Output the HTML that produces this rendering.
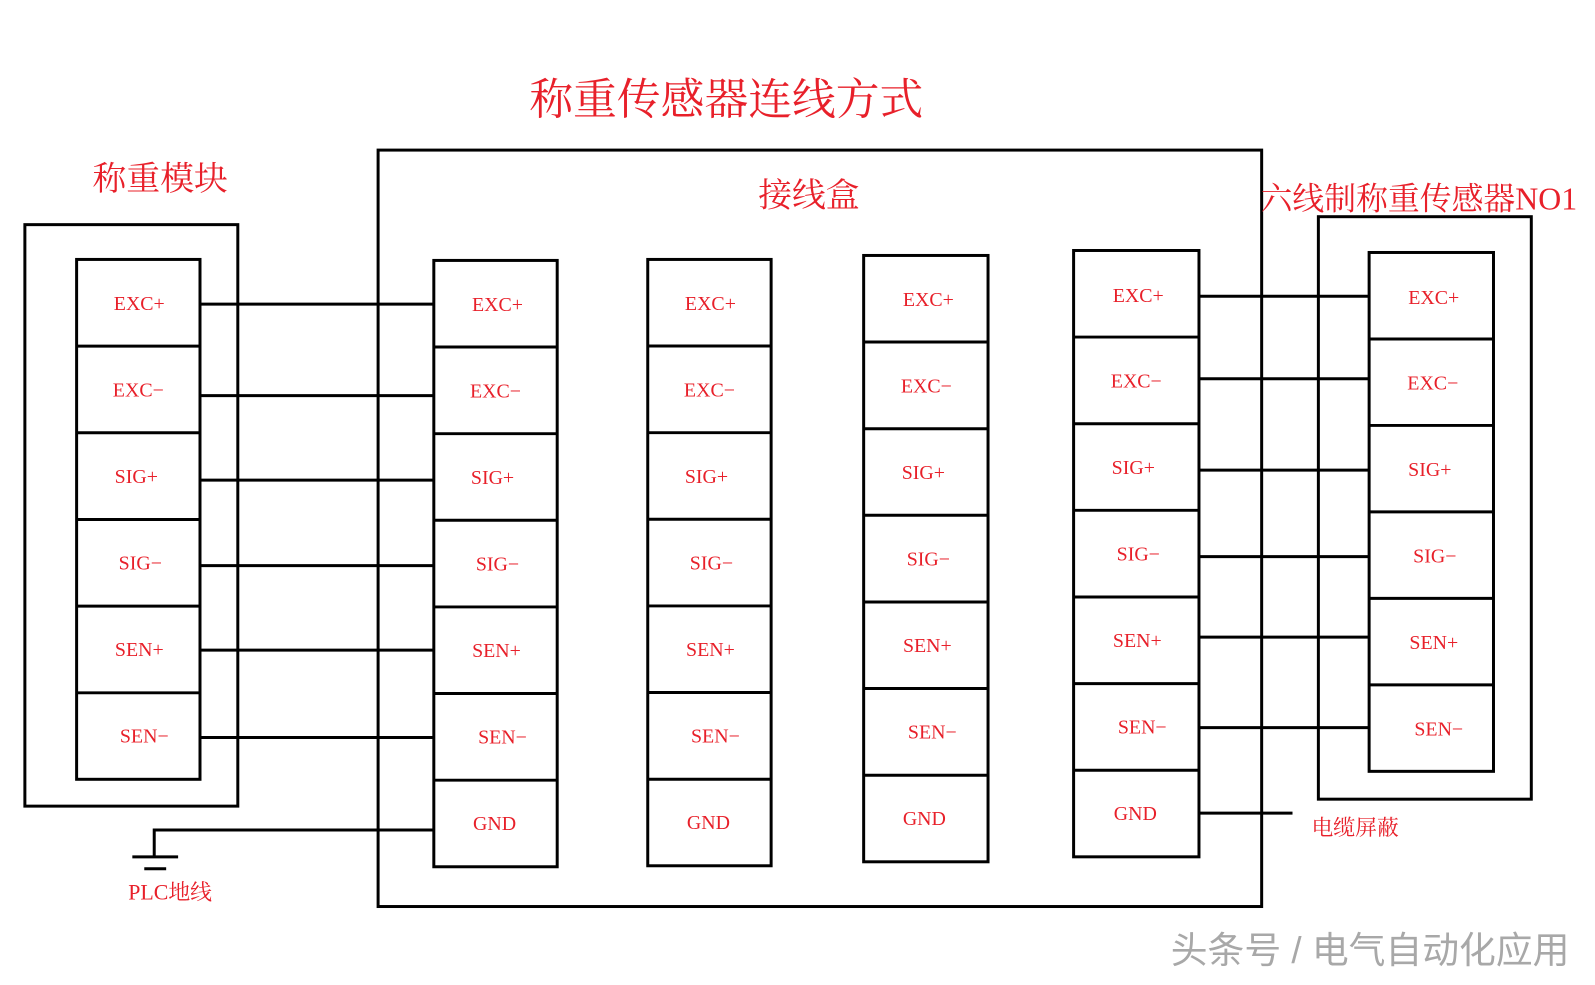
<!DOCTYPE html>
<html><head><meta charset="utf-8"><style>
html,body{margin:0;padding:0;background:#fff;}
svg{display:block;}
.t{font-family:"Liberation Serif","Noto Serif CJK SC",serif;font-size:20px;fill:#e8202a;text-anchor:middle;}
.c{font-family:"Liberation Serif","Noto Serif CJK SC",serif;fill:#e8202a;}
</style></head><body>
<svg width="1595" height="985" viewBox="0 0 1595 985" xmlns="http://www.w3.org/2000/svg">
<g transform="scale(0.995,0.994)">
<g fill="none" stroke="#000" stroke-width="3">
<rect x="25" y="226" width="214" height="585"/>
<g transform="translate(77,261)"><rect x="0" y="0" width="124" height="523"/>
<line x1="0" y1="87.2" x2="124" y2="87.2"/><line x1="0" y1="174.4" x2="124" y2="174.4"/><line x1="0" y1="261.6" x2="124" y2="261.6"/><line x1="0" y1="348.8" x2="124" y2="348.8"/><line x1="0" y1="436" x2="124" y2="436"/></g>
<rect x="380" y="151" width="888" height="761"/>
<g transform="translate(436,262)"><rect x="0" y="0" width="124" height="610"/>
<line x1="0" y1="87.1" x2="124" y2="87.1"/><line x1="0" y1="174.3" x2="124" y2="174.3"/><line x1="0" y1="261.4" x2="124" y2="261.4"/><line x1="0" y1="348.6" x2="124" y2="348.6"/><line x1="0" y1="435.7" x2="124" y2="435.7"/><line x1="0" y1="522.9" x2="124" y2="522.9"/></g>
<g transform="translate(651,261)"><rect x="0" y="0" width="124" height="610"/>
<line x1="0" y1="87.1" x2="124" y2="87.1"/><line x1="0" y1="174.3" x2="124" y2="174.3"/><line x1="0" y1="261.4" x2="124" y2="261.4"/><line x1="0" y1="348.6" x2="124" y2="348.6"/><line x1="0" y1="435.7" x2="124" y2="435.7"/><line x1="0" y1="522.9" x2="124" y2="522.9"/></g>
<g transform="translate(868,257)"><rect x="0" y="0" width="125" height="610"/>
<line x1="0" y1="87.1" x2="125" y2="87.1"/><line x1="0" y1="174.3" x2="125" y2="174.3"/><line x1="0" y1="261.4" x2="125" y2="261.4"/><line x1="0" y1="348.6" x2="125" y2="348.6"/><line x1="0" y1="435.7" x2="125" y2="435.7"/><line x1="0" y1="522.9" x2="125" y2="522.9"/></g>
<g transform="translate(1079,252)"><rect x="0" y="0" width="126" height="610"/>
<line x1="0" y1="87.1" x2="126" y2="87.1"/><line x1="0" y1="174.3" x2="126" y2="174.3"/><line x1="0" y1="261.4" x2="126" y2="261.4"/><line x1="0" y1="348.6" x2="126" y2="348.6"/><line x1="0" y1="435.7" x2="126" y2="435.7"/><line x1="0" y1="522.9" x2="126" y2="522.9"/></g>
<rect x="1325" y="218" width="214" height="586"/>
<g transform="translate(1376,254)"><rect x="0" y="0" width="125" height="522"/>
<line x1="0" y1="87" x2="125" y2="87"/><line x1="0" y1="174" x2="125" y2="174"/><line x1="0" y1="261" x2="125" y2="261"/><line x1="0" y1="348" x2="125" y2="348"/><line x1="0" y1="435" x2="125" y2="435"/></g>
<line x1="201" y1="306" x2="436" y2="306"/>
<line x1="201" y1="398" x2="436" y2="398"/>
<line x1="201" y1="483" x2="436" y2="483"/>
<line x1="201" y1="569" x2="436" y2="569"/>
<line x1="201" y1="654" x2="436" y2="654"/>
<line x1="201" y1="742" x2="436" y2="742"/>
<line x1="1205" y1="298" x2="1376" y2="298"/>
<line x1="1205" y1="381" x2="1376" y2="381"/>
<line x1="1205" y1="473" x2="1376" y2="473"/>
<line x1="1205" y1="560" x2="1376" y2="560"/>
<line x1="1205" y1="641" x2="1376" y2="641"/>
<line x1="1205" y1="732" x2="1376" y2="732"/>
<line x1="1205" y1="818" x2="1299" y2="818"/>
<polyline points="436,835 155,835 155,862"/>
<line x1="133" y1="862" x2="179" y2="862"/>
<line x1="145" y1="874" x2="167" y2="874"/>
</g>
<text class="c" x="730" y="115" font-size="44" text-anchor="middle">称重传感器连线方式</text>
<text class="c" x="161" y="191" font-size="34" text-anchor="middle">称重模块</text>
<text class="c" x="813" y="208" font-size="34" text-anchor="middle">接线盒</text>
<text class="c" x="1426" y="211" font-size="32" text-anchor="middle">六线制称重传感器NO1</text>
<text class="c" x="1362" y="840" font-size="22" text-anchor="middle">电缆屏蔽</text>
<text class="c" x="171" y="905" font-size="22" text-anchor="middle">PLC地线</text>
<text x="1377" y="969" font-family="Liberation Sans,'Noto Sans CJK SC',sans-serif" font-size="37" fill="#a8a8a8" text-anchor="middle">头条号 / 电气自动化应用</text>
<text class="t" x="140" y="312">EXC+</text>
<text class="t" x="139" y="399">EXC−</text>
<text class="t" x="137" y="486">SIG+</text>
<text class="t" x="141" y="573">SIG−</text>
<text class="t" x="140" y="660">SEN+</text>
<text class="t" x="145" y="747">SEN−</text>
<text class="t" x="500" y="313">EXC+</text>
<text class="t" x="498" y="400">EXC−</text>
<text class="t" x="495" y="487">SIG+</text>
<text class="t" x="500" y="574">SIG−</text>
<text class="t" x="499" y="661">SEN+</text>
<text class="t" x="505" y="748">SEN−</text>
<text class="t" x="497" y="835">GND</text>
<text class="t" x="714" y="312">EXC+</text>
<text class="t" x="713" y="399">EXC−</text>
<text class="t" x="710" y="486">SIG+</text>
<text class="t" x="715" y="573">SIG−</text>
<text class="t" x="714" y="660">SEN+</text>
<text class="t" x="719" y="747">SEN−</text>
<text class="t" x="712" y="834">GND</text>
<text class="t" x="933" y="308">EXC+</text>
<text class="t" x="931" y="395">EXC−</text>
<text class="t" x="928" y="482">SIG+</text>
<text class="t" x="933" y="569">SIG−</text>
<text class="t" x="932" y="656">SEN+</text>
<text class="t" x="937" y="743">SEN−</text>
<text class="t" x="929" y="830">GND</text>
<text class="t" x="1144" y="304">EXC+</text>
<text class="t" x="1142" y="390">EXC−</text>
<text class="t" x="1139" y="477">SIG+</text>
<text class="t" x="1144" y="564">SIG−</text>
<text class="t" x="1143" y="651">SEN+</text>
<text class="t" x="1148" y="738">SEN−</text>
<text class="t" x="1141" y="825">GND</text>
<text class="t" x="1441" y="306">EXC+</text>
<text class="t" x="1440" y="392">EXC−</text>
<text class="t" x="1437" y="479">SIG+</text>
<text class="t" x="1442" y="566">SIG−</text>
<text class="t" x="1441" y="653">SEN+</text>
<text class="t" x="1446" y="740">SEN−</text>
</g>
</svg>
</body></html>
